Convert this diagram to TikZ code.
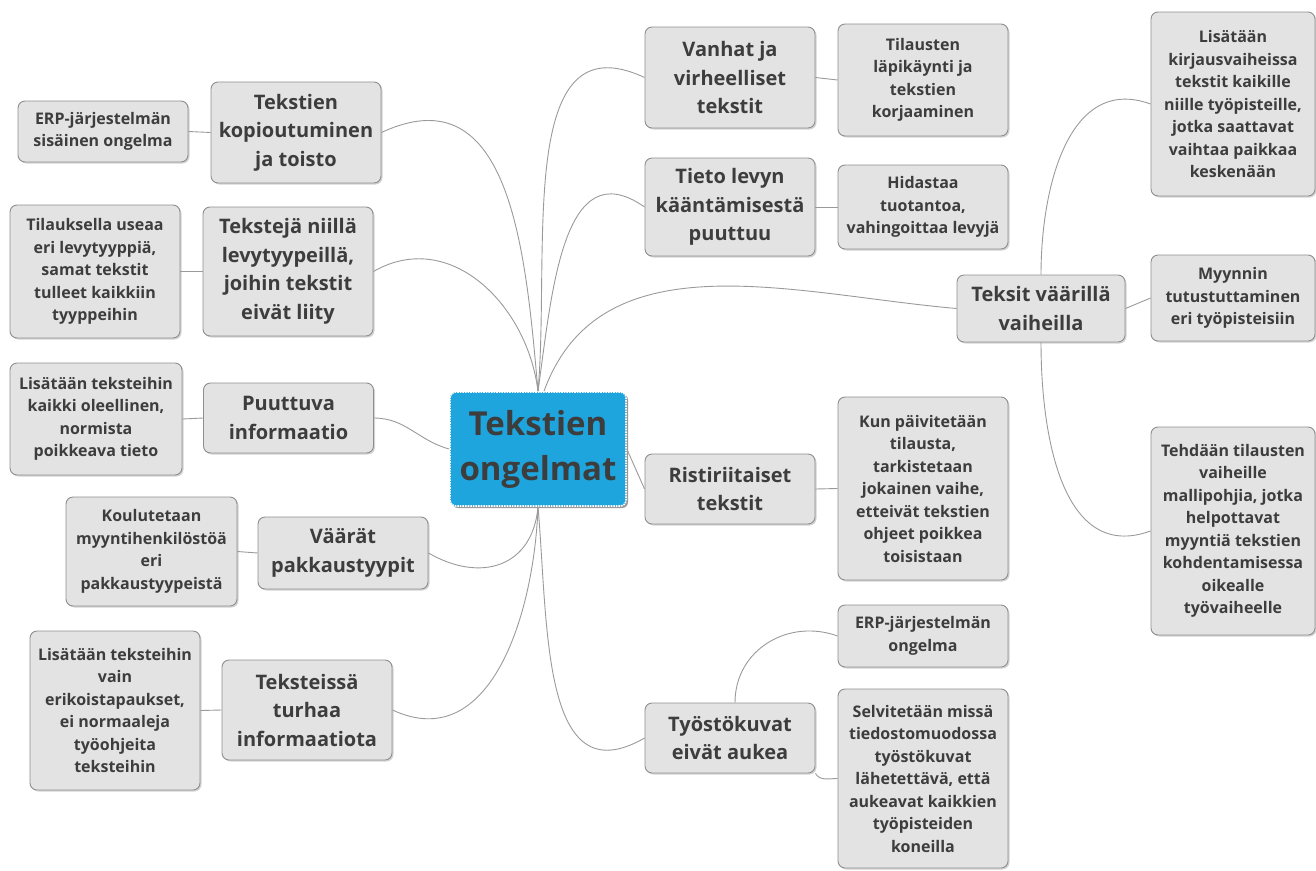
\documentclass[tikz,border=0pt]{standalone}
\usepackage{fontspec}
\setmainfont{Open Sans}
\usepackage{tikz}
\usetikzlibrary{shadows}

\definecolor{boxfill}{HTML}{E3E3E3}
\definecolor{boxline}{HTML}{8E8E8E}
\definecolor{boxtext}{HTML}{3D3D3D}
\definecolor{rootfill}{HTML}{1FA5DE}
\definecolor{linkgray}{HTML}{9A9A9A}

\begin{document}
\begin{tikzpicture}[x=1pt, y=1pt,
    box/.style={draw=boxline, fill=boxfill, rounded corners=7pt, line width=0.9pt,
        align=center, text=boxtext, inner sep=3pt,
        drop shadow={shadow xshift=1.5pt, shadow yshift=-1.5pt, opacity=0.35}},
    mainbox/.style={box, minimum width=170pt, font=\bfseries\fontsize{20}{28.5}\selectfont},
    leafbox/.style={box, minimum width=170pt, font=\bfseries\fontsize{16}{22.5}\selectfont},
    rootbox/.style={fill=rootfill, draw=white, densely dotted, line width=1.6pt,
        rounded corners=6pt, minimum width=176pt, minimum height=114pt, align=center,
        text=boxtext, font=\bfseries\fontsize{33}{45}\selectfont,
        drop shadow={shadow xshift=2pt, shadow yshift=-2pt, opacity=0.8}},
    link/.style={draw=linkgray, line width=0.9pt}]

    \useasboundingbox (0,0) rectangle (1316,-870);

    % ==========================================
    % Root
    % ==========================================
    \node[rootbox] (ongelmat) at (538,-449) {Tekstien\\ongelmat};

    % ==========================================
    % Left branches
    % ==========================================
    \node[mainbox, minimum height=101pt] (kopiot) at (296,-132.5) {Tekstien\\kopioutuminen\\ja toisto};
    \node[mainbox, minimum height=129pt] (levyt) at (288,-271.5) {Tekstejä niillä\\levytyypeillä,\\joihin tekstit\\eivät liity};
    \node[mainbox, minimum height=70pt] (puuttuva) at (288.5,-418) {Puuttuva\\informaatio};
    \node[mainbox, minimum height=72pt] (pakkaus) at (343,-553) {Väärät\\pakkaustyypit};
    \node[mainbox, minimum height=100pt] (turha) at (307,-710) {Teksteissä\\turhaa\\informaatiota};

    % left leaves
    \node[leafbox, minimum height=61pt] (erp) at (103,-131.5) {ERP-järjestelmän\\sisäinen ongelma};
    \node[leafbox, minimum height=133pt] (useaa) at (95,-271.5) {Tilauksella useaa\\eri levytyyppiä,\\samat tekstit\\tulleet kaikkiin\\tyyppeihin};
    \node[leafbox, minimum height=112pt, minimum width=172pt] (oleellinen) at (96,-419) {Lisätään teksteihin\\kaikki oleellinen,\\normista\\poikkeava tieto};
    \node[leafbox, minimum height=109pt, minimum width=171pt] (koulutus) at (151.5,-551.5) {Koulutetaan\\myyntihenkilöstöä\\eri\\pakkaustyypeistä};
    \node[leafbox, minimum height=159pt] (erikois) at (115,-710.5) {Lisätään teksteihin\\vain\\erikoistapaukset,\\ei normaaleja\\työohjeita\\teksteihin};

    % ==========================================
    % Right branches
    % ==========================================
    \node[mainbox, minimum height=101pt] (vanhat) at (730,-77.5) {Vanhat ja\\virheelliset\\tekstit};
    \node[mainbox, minimum height=98pt] (kaanto) at (730,-207) {Tieto levyn\\kääntämisestä\\puuttuu};
    \node[mainbox, minimum height=67pt, minimum width=168pt] (vaiheet) at (1041,-308.5) {Teksit väärillä\\vaiheilla};
    \node[mainbox, minimum height=70pt] (ristiriita) at (730,-489) {Ristiriitaiset\\tekstit};
    \node[mainbox, minimum height=70pt] (kuvat) at (730,-738) {Työstökuvat\\eivät aukea};

    % right leaves
    \node[leafbox, minimum height=112pt] (lapikaynti) at (923,-80) {Tilausten\\läpikäynti ja\\tekstien\\korjaaminen};
    \node[leafbox, minimum height=84pt] (hidastaa) at (923,-207) {Hidastaa\\tuotantoa,\\vahingoittaa levyjä};
    \node[leafbox, minimum height=184pt, minimum width=164pt] (kirjaus) at (1233,-104) {Lisätään\\kirjausvaiheissa\\tekstit kaikille\\niille työpisteille,\\jotka saattavat\\vaihtaa paikkaa\\keskenään};
    \node[leafbox, minimum height=86pt, minimum width=164pt] (myynti) at (1233,-298) {Myynnin\\tutustuttaminen\\eri työpisteisiin};
    \node[leafbox, minimum height=208pt, minimum width=164pt] (mallipohja) at (1233,-531) {Tehdään tilausten\\vaiheille\\mallipohjia, jotka\\helpottavat\\myyntiä tekstien\\kohdentamisessa\\oikealle\\työvaiheelle};
    \node[leafbox, minimum height=183pt] (paivitys) at (923,-488.5) {Kun päivitetään\\tilausta,\\tarkistetaan\\jokainen vaihe,\\etteivät tekstien\\ohjeet poikkea\\toisistaan};
    \node[leafbox, minimum height=62pt] (erp2) at (923,-636) {ERP-järjestelmän\\ongelma};
    \node[leafbox, minimum height=179pt] (tiedosto) at (923,-778.5) {Selvitetään missä\\tiedostomuodossa\\työstökuvat\\lähetettävä, että\\aukeavat kaikkien\\työpisteiden\\koneilla};

    % ==========================================
    % Connectors
    % ==========================================
    % root to branches
    \draw[link] (ongelmat.north) to[out=95, in=25, looseness=1.2] (kopiot.east);
    \draw[link] (ongelmat.north) to[out=97, in=30, looseness=1.1] (levyt.east);
    \draw[link] (puuttuva.east) to[out=0, in=165] (ongelmat.west);
    \draw[link] (ongelmat.south) to[out=-95, in=-30, looseness=1.3] (pakkaus.east);
    \draw[link] (ongelmat.south) to[out=-92, in=-25, looseness=1.1] (turha.east);
    \draw[link] (ongelmat.north) to[out=85, in=155, looseness=1.1] (vanhat.west);
    \draw[link] (ongelmat.north) to[out=82, in=145, looseness=1.2] (kaanto.west);
    \draw[link] ([xshift=6pt]ongelmat.north) to[out=70, in=175] (vaiheet.west);
    \draw[link] (ongelmat.east) -- (ristiriita.west);
    \draw[link] (ongelmat.south) to[out=-85, in=-150, looseness=1.2] (kuvat.west);

    % branches to leaves
    \draw[link] (erp.east) -- (kopiot.west);
    \draw[link] (useaa.east) -- (levyt.west);
    \draw[link] (oleellinen.east) -- (puuttuva.west);
    \draw[link] (koulutus.east) -- (pakkaus.west);
    \draw[link] (erikois.east) -- (turha.west);
    \draw[link] (vanhat.east) -- (lapikaynti.west);
    \draw[link] (kaanto.east) -- (hidastaa.west);
    \draw[link] (vaiheet.north) to[out=90, in=160, looseness=1.1] (kirjaus.west);
    \draw[link] (vaiheet.east) -- (myynti.west);
    \draw[link] (vaiheet.south) to[out=-90, in=-160, looseness=1.1] (mallipohja.west);
    \draw[link] (ristiriita.east) -- (paivitys.west);
    \draw[link] ([xshift=5pt]kuvat.north) to[out=90, in=160, looseness=1.1] (erp2.west);
    \draw[link] (kuvat.south east) to[out=-60, in=180] (tiedosto.west);

\end{tikzpicture}
\end{document}
